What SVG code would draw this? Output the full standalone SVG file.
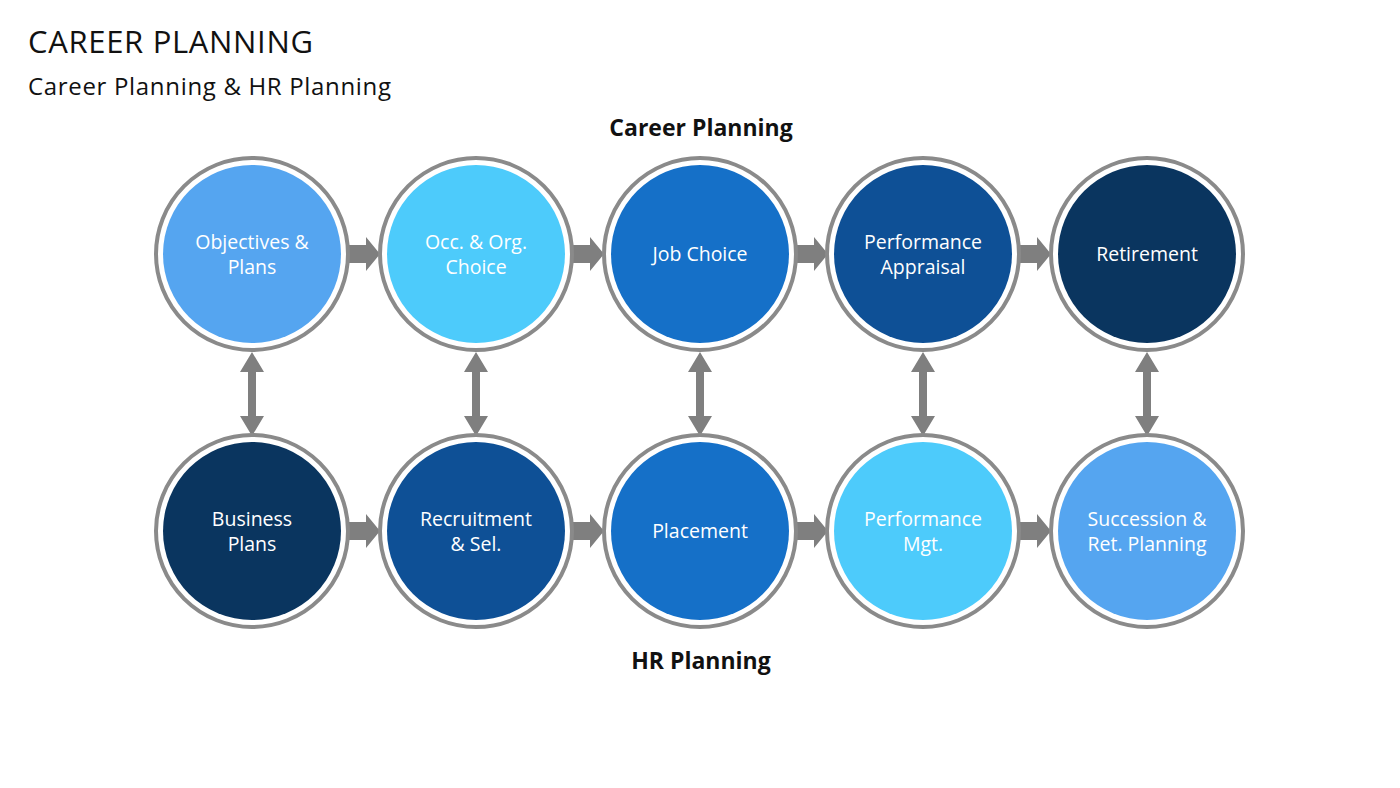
<svg xmlns="http://www.w3.org/2000/svg" width="1400" height="788" viewBox="0 0 1400 788">
<style>
.t{font-family:"Open Sans","Liberation Sans",sans-serif;fill:#fff;font-size:19.5px;text-anchor:middle}
.h{font-family:"Open Sans","Liberation Sans",sans-serif;fill:#111;font-size:23px;font-weight:bold;text-anchor:middle}
.ring{fill:#fff;stroke:#8a8a8a;stroke-width:4}
.ar{fill:#7f7f7f}
</style>
<defs>
<g id="ha"><path d="M0,-9 L18,-9 L18,-17 L32,0 L18,17 L18,9 L0,9 Z" class="ar"/></g>
<g id="va"><path d="M0,-42 L12,-22 L4,-22 L4,22 L12,22 L0,42 L-12,22 L-4,22 L-4,-22 L-12,-22 Z" class="ar"/></g>
</defs>
<rect width="1400" height="788" fill="#fff"/>
<text x="28" y="53" font-family="Open Sans, Liberation Sans, sans-serif" font-size="31" fill="#111" textLength="285">CAREER PLANNING</text>
<text x="28" y="95" font-family="Open Sans, Liberation Sans, sans-serif" font-size="24" fill="#111" textLength="363">Career Planning &amp; HR Planning</text>
<text class="h" x="701" y="136">Career Planning</text>
<text class="h" x="701" y="669">HR Planning</text>
<g id="connectors">
<use href="#ha" x="348" y="254"/><use href="#ha" x="572" y="254"/><use href="#ha" x="796" y="254"/><use href="#ha" x="1019" y="254"/>
<use href="#ha" x="348" y="531"/><use href="#ha" x="572" y="531"/><use href="#ha" x="796" y="531"/><use href="#ha" x="1019" y="531"/>
<use href="#va" x="252" y="394"/><use href="#va" x="476" y="394"/><use href="#va" x="700" y="394"/><use href="#va" x="923" y="394"/><use href="#va" x="1147" y="394"/>
</g>
<g id="n1"><circle class="ring" cx="252" cy="254" r="96"/><circle cx="252" cy="254" r="89" fill="#55a5f0"/><text class="t" x="252" y="249">Objectives &amp;</text><text class="t" x="252" y="274">Plans</text></g>
<g id="n2"><circle class="ring" cx="476" cy="254" r="96"/><circle cx="476" cy="254" r="89" fill="#4dcbfb"/><text class="t" x="476" y="249">Occ. &amp; Org.</text><text class="t" x="476" y="274">Choice</text></g>
<g id="n3"><circle class="ring" cx="700" cy="254" r="96"/><circle cx="700" cy="254" r="89" fill="#1570c8"/><text class="t" x="700" y="261">Job Choice</text></g>
<g id="n4"><circle class="ring" cx="923" cy="254" r="96"/><circle cx="923" cy="254" r="89" fill="#0e5096"/><text class="t" x="923" y="249">Performance</text><text class="t" x="923" y="274">Appraisal</text></g>
<g id="n5"><circle class="ring" cx="1147" cy="254" r="96"/><circle cx="1147" cy="254" r="89" fill="#0a355f"/><text class="t" x="1147" y="261">Retirement</text></g>
<g id="n6"><circle class="ring" cx="252" cy="531" r="96"/><circle cx="252" cy="531" r="89" fill="#0a355f"/><text class="t" x="252" y="526">Business</text><text class="t" x="252" y="551">Plans</text></g>
<g id="n7"><circle class="ring" cx="476" cy="531" r="96"/><circle cx="476" cy="531" r="89" fill="#0e5096"/><text class="t" x="476" y="526">Recruitment</text><text class="t" x="476" y="551">&amp; Sel.</text></g>
<g id="n8"><circle class="ring" cx="700" cy="531" r="96"/><circle cx="700" cy="531" r="89" fill="#1570c8"/><text class="t" x="700" y="538">Placement</text></g>
<g id="n9"><circle class="ring" cx="923" cy="531" r="96"/><circle cx="923" cy="531" r="89" fill="#4dcbfb"/><text class="t" x="923" y="526">Performance</text><text class="t" x="923" y="551">Mgt.</text></g>
<g id="n10"><circle class="ring" cx="1147" cy="531" r="96"/><circle cx="1147" cy="531" r="89" fill="#55a5f0"/><text class="t" x="1147" y="526">Succession &amp;</text><text class="t" x="1147" y="551">Ret. Planning</text></g>
</svg>
